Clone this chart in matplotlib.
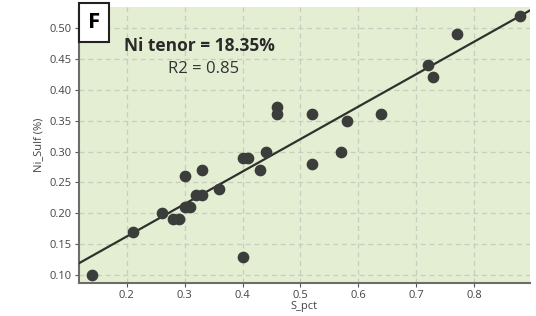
import numpy as np
import matplotlib.pyplot as plt
plt.rcParams.update({'font.size': 8, 'font.family': 'Open Sans'})

# Sample data
s_pct = [0.14, 0.21, 0.26, 0.28, 0.29, 0.30, 0.31, 0.30, 0.32, 0.33,
         0.33, 0.36, 0.40, 0.41, 0.40, 0.43, 0.44, 0.46, 0.46, 0.52,
         0.52, 0.57, 0.58, 0.64, 0.72, 0.73, 0.77, 0.88]
ni_sulf = [0.10, 0.17, 0.20, 0.19, 0.19, 0.21, 0.21, 0.26, 0.23, 0.23,
           0.27, 0.24, 0.29, 0.29, 0.13, 0.27, 0.30, 0.36, 0.372, 0.36,
           0.28, 0.30, 0.35, 0.36, 0.44, 0.42, 0.49, 0.52]

# Regression line
slope, intercept = 0.525, 0.0576
xfit = np.array([0.117, 0.897])

fig = plt.figure(figsize=(5.36, 3.16), dpi=100)
ax = fig.add_axes([0.147, 0.104, 0.842, 0.874])
ax.set_facecolor('#e4eed2')

ax.plot(xfit, slope*xfit + intercept, c='#2e322e', lw=1.6, zorder=3)
ax.scatter(s_pct, ni_sulf, s=55, c='#3b3d3b', zorder=4)

ax.set_xlim(0.117, 0.897)
ax.set_ylim(0.087, 0.534)
ax.set_xticks([0.2, 0.3, 0.4, 0.5, 0.6, 0.7, 0.8])
ax.set_xticklabels(['0.2', '0.3', '0.4', '0.5', '0.6', '0.7', '0.8'])
ax.set_yticks([0.10, 0.15, 0.20, 0.25, 0.30, 0.35, 0.40, 0.45, 0.50])
ax.set_yticklabels(['%.2f' % v for v in ax.get_yticks()])
ax.grid(color='#c8cdc0', ls=(0, (4, 3)), lw=0.9)
ax.set_axisbelow(True)
ax.tick_params(colors='#555555', labelcolor='#444444', length=3, pad=2)
for side in ['top', 'right']:
    ax.spines[side].set_visible(False)
for side in ['left', 'bottom']:
    ax.spines[side].set_color('#6a6e68')
    ax.spines[side].set_linewidth(1.5)

ax.set_xlabel('S_pct', color='#444444', labelpad=0)
ax.set_ylabel('Ni_Sulf (%)', color='#444444', labelpad=4)

# Annotations
fig.text(0.176, 0.929, 'F', fontsize=16, fontweight='bold', ha='center', va='center',
         bbox=dict(boxstyle='square,pad=0.4', fc='white', ec='#222222', lw=1.5))
ax.text(0.325, 0.471, 'Ni tenor = 18.35%', fontsize=12.5, fontweight='bold',
        color='#2a2a2a', ha='center', va='center')
ax.text(0.333, 0.433, 'R2 = 0.85', fontsize=12, color='#333333', ha='center', va='center')

plt.savefig('out.png', dpi=100)
